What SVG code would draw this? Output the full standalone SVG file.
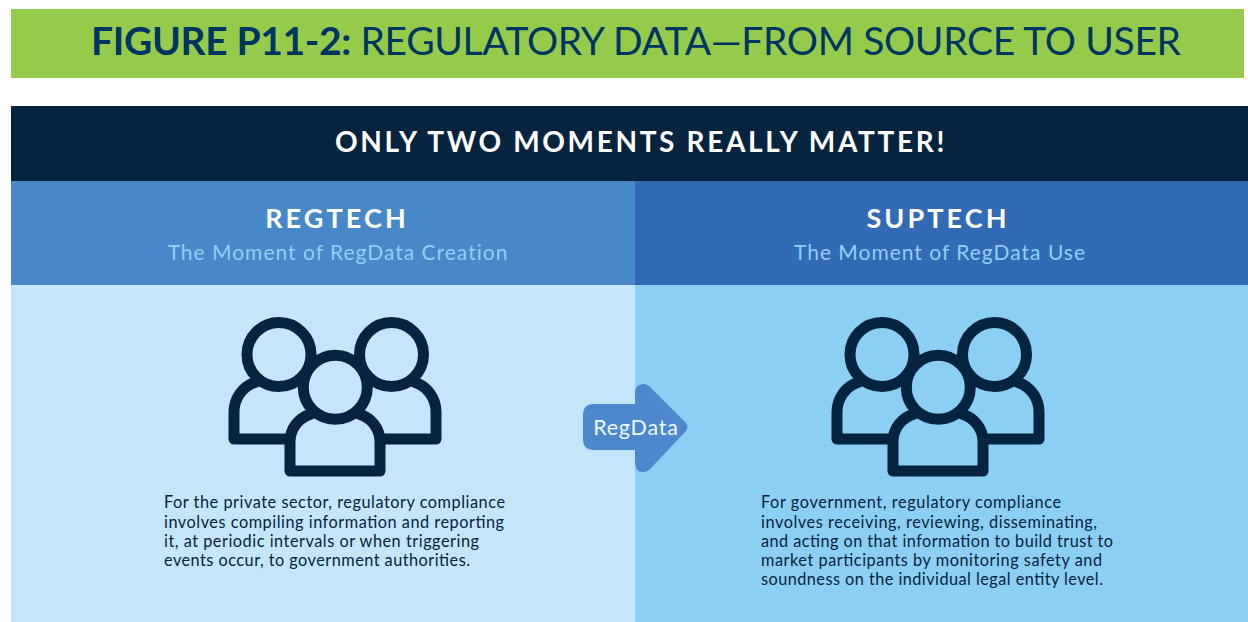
<svg xmlns="http://www.w3.org/2000/svg" width="1248" height="622" viewBox="0 0 1248 622">
<style>
text{font-family:"Lato","Open Sans","Liberation Sans",sans-serif}
.title{font-size:39px;fill:#003462}
.h{font-size:27px;font-weight:700;fill:#fff;text-anchor:middle;letter-spacing:3.100px}
.sub{font-size:21px;fill:#8fd0f2;text-anchor:middle;letter-spacing:1px}
.body{font-size:16.300px;fill:#06233f}
.ic{fill:none;stroke:#06233f;stroke-width:11;stroke-linejoin:round;stroke-linecap:round}
</style>
<defs>
<g id="people" class="ic">
<path d="M234 439V412C234 398 243 386 256 382M234 439H287M436 439V412C436 398 427 386 414 382M436 439H384"/>
<path d="M290 471V442C290 429 298 418 311 414M380 471V442C380 429 372 418 359 414M290 471H380"/>
<circle cx="279" cy="354.500" r="32"/>
<circle cx="391.500" cy="354.500" r="32"/>
<circle cx="335.300" cy="387.300" r="32"/>
</g>
</defs>
<rect width="1248" height="622" fill="#fff"/>
<g id="title-band"><rect x="11" y="9" width="1233" height="69" fill="#96ca4a"/>
<text class="title" x="91" y="55" textLength="1090"><tspan font-weight="700">FIGURE P11-2:</tspan> REGULATORY DATA—FROM SOURCE TO USER</text></g>
<g id="banner"><rect x="11" y="106" width="1237" height="75" fill="#06233f"/>
<text x="641" y="152" font-size="28" font-weight="700" fill="#fff" text-anchor="middle" letter-spacing="2.650">ONLY TWO MOMENTS REALLY MATTER!</text></g>
<g id="regtech">
<rect x="11" y="181" width="624" height="104" fill="#4788c9"/>
<rect x="11" y="285" width="624" height="337" fill="#c5e6fa"/>
<text class="h" x="337" y="228">REGTECH</text>
<text class="sub" x="338" y="260">The Moment of RegData Creation</text>
<use href="#people"/>
<text class="body" x="164" y="508" textLength="341">For the private sector, regulatory compliance</text>
<text class="body" x="164" y="527.500" textLength="340">involves compiling information and reporting</text>
<text class="body" x="164" y="547" textLength="315">it, at periodic intervals or when triggering</text>
<text class="body" x="164" y="566" textLength="306">events occur, to government authorities.</text>
</g>
<g id="suptech">
<rect x="635" y="181" width="613" height="104" fill="#336ab5"/>
<rect x="635" y="285" width="613" height="337" fill="#8bd0f4"/>
<text class="h" x="938" y="228">SUPTECH</text>
<text class="sub" x="940" y="260">The Moment of RegData Use</text>
<use href="#people" x="603"/>
<text class="body" x="761" y="508" textLength="300">For government, regulatory compliance</text>
<text class="body" x="761" y="527.500" textLength="336">involves receiving, reviewing, disseminating,</text>
<text class="body" x="761" y="547" textLength="352">and acting on that information to build trust to</text>
<text class="body" x="761" y="566" textLength="341">market participants by monitoring safety and</text>
<text class="body" x="761" y="585" textLength="342">soundness on the individual legal entity level.</text>
</g>
<g id="connectors">
<path d="M594 404H635V394Q635 384 643 384Q648 384 652 389L685 422Q690 427 685 432L652 467Q648 472 643 472Q635 472 635 462V450H594Q583 450 583 439V415Q583 404 594 404Z" fill="#4c89cc"/>
<text x="636" y="434.500" font-size="21.500" fill="#eef7fd" text-anchor="middle" letter-spacing=".8">RegData</text>
</g>
</svg>
